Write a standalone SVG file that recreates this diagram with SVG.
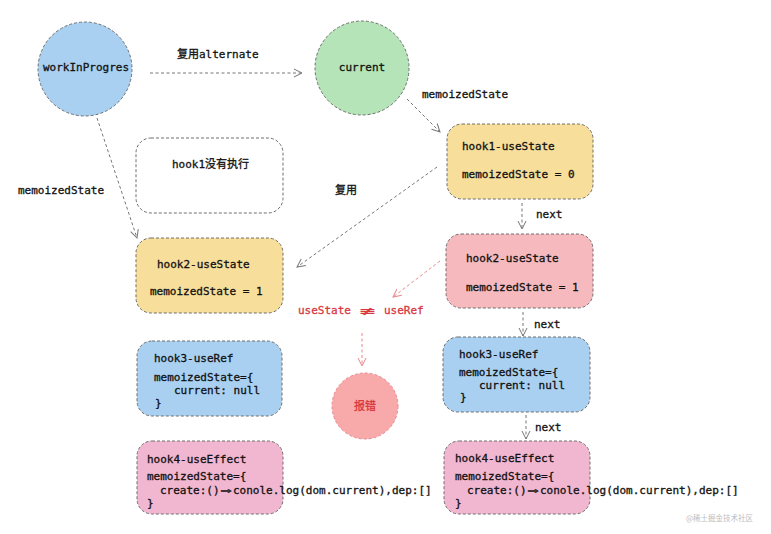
<svg xmlns="http://www.w3.org/2000/svg" width="771" height="534" viewBox="0 0 771 534">
<defs>
<style>
text{font-family:"DejaVu Sans Mono","Noto Sans CJK SC",monospace;font-size:11px;fill:#111;stroke:#111;stroke-width:0.3px}
.shape{stroke:#6f6f6f;stroke-width:1;stroke-dasharray:3 2}
.edge{fill:none;stroke:#777;stroke-width:1;stroke-dasharray:3 2.5}
.red{fill:none;stroke:#e8878d;stroke-width:1;stroke-dasharray:3 2.5}
text.rt{fill:#d9373e;stroke:#d9373e}
text.wm{font-family:"Noto Sans CJK SC",sans-serif;font-size:7.5px;fill:#bdbdbd;stroke:none}
</style>
<marker id="ah" viewBox="0 0 10 10" refX="9" refY="5" markerWidth="10" markerHeight="10" orient="auto" markerUnits="userSpaceOnUse">
<path d="M1,1 L9,5 L1,9" fill="none" stroke="#777" stroke-width="1"/>
</marker>
<marker id="ahr" viewBox="0 0 10 10" refX="9" refY="5" markerWidth="10" markerHeight="10" orient="auto" markerUnits="userSpaceOnUse">
<path d="M1,1 L9,5 L1,9" fill="none" stroke="#e8878d" stroke-width="1"/>
</marker>
</defs>
<rect width="771" height="534" fill="#fff"/>

<g id="connectors">
<path class="edge" d="M150,73 L302,73" marker-end="url(#ah)"/>
<path class="edge" d="M407,99 L440,132" marker-end="url(#ah)"/>
<path class="edge" d="M522,203 L522,229" marker-end="url(#ah)"/>
<path class="edge" d="M523,312 L523,336" marker-end="url(#ah)"/>
<path class="edge" d="M526,415 L526,439" marker-end="url(#ah)"/>
<path class="edge" d="M97,118 L137,238" marker-end="url(#ah)"/>
<path class="edge" d="M437,167 L297,267" marker-end="url(#ah)"/>
<path class="red" d="M440,261 L393,297" marker-end="url(#ahr)"/>
<path class="red" d="M362,333 L362,366" marker-end="url(#ahr)"/>
<text x="177" y="58">复用alternate</text>
<text x="422" y="98">memoizedState</text>
<text x="18" y="194">memoizedState</text>
<text x="335" y="194">复用</text>
<text x="536" y="218">next</text>
<text x="534" y="328">next</text>
<text x="535" y="431">next</text>
</g>

<g id="workInProgress">
<circle class="shape" cx="85" cy="69" r="47" fill="#a9d0f1"/>
<text x="86" y="71" text-anchor="middle">workInProgres</text>
</g>

<g id="current">
<circle class="shape" cx="362" cy="68" r="47" fill="#b4e4b8"/>
<text x="362" y="71" text-anchor="middle">current</text>
</g>

<g id="hook1-right">
<rect class="shape" x="447" y="124" width="146" height="75" rx="15" fill="#f7de9b"/>
<text x="462" y="150">hook1-useState</text>
<text x="462" y="178">memoizedState = 0</text>
</g>

<g id="hook1-missing">
<rect class="shape" x="136" y="138" width="147" height="75" rx="15" fill="none"/>
<text x="172" y="168">hook1没有执行</text>
</g>

<g id="hook2-left">
<rect class="shape" x="136" y="238" width="147" height="75" rx="15" fill="#f7de9b"/>
<text x="157" y="268">hook2-useState</text>
<text x="150" y="295">memoizedState = 1</text>
</g>

<g id="hook2-right">
<rect class="shape" x="446" y="234" width="147" height="74" rx="15" fill="#f6babe"/>
<text x="466" y="262">hook2-useState</text>
<text x="466" y="291">memoizedState = 1</text>
</g>

<g id="mismatch">
<text class="rt" x="298" y="314">useState</text>
<text class="rt" x="0" y="0" font-size="13" text-anchor="middle" transform="translate(367.5,314.5) scale(2.3,1)">≢</text>
<text class="rt" x="384" y="314">useRef</text>
</g>

<g id="error">
<circle cx="365" cy="406" r="33" fill="#f8aaaa" stroke="#e8878d" stroke-width="1" stroke-dasharray="3 2"/>
<text class="rt" x="365" y="410" text-anchor="middle">报错</text>
</g>

<g id="hook3-left">
<rect class="shape" x="137" y="341" width="145" height="75" rx="15" fill="#a9d0f1"/>
<text x="154" y="362">hook3-useRef</text>
<text x="154" y="381">memoizedState={</text>
<text x="174" y="394">current: null</text>
<text x="155" y="407">}</text>
</g>

<g id="hook3-right">
<rect class="shape" x="443" y="337" width="147" height="75" rx="15" fill="#a9d0f1"/>
<text x="459" y="358">hook3-useRef</text>
<text x="459" y="376">memoizedState={</text>
<text x="479" y="389">current: null</text>
<text x="460" y="401">}</text>
</g>

<g id="hook4-left">
<rect class="shape" x="137" y="441" width="146" height="73" rx="15" fill="#f2b7d0"/>
<text x="147" y="463">hook4-useEffect</text>
<text x="147" y="480">memoizedState={</text>
<text x="160" y="494">create:()</text>
<text x="0" y="0" text-anchor="middle" transform="translate(226.2,494) scale(1.7,1)">⇒</text>
<text x="233" y="494">conole.log(dom.current),dep:[]</text>
<text x="147" y="507">}</text>
</g>

<g id="hook4-right">
<rect class="shape" x="444" y="441" width="146" height="73" rx="15" fill="#f2b7d0"/>
<text x="455" y="462">hook4-useEffect</text>
<text x="455" y="480">memoizedState={</text>
<text x="467" y="494">create:()</text>
<text x="0" y="0" text-anchor="middle" transform="translate(533.2,494) scale(1.7,1)">⇒</text>
<text x="540" y="494">conole.log(dom.current),dep:[]</text>
<text x="455" y="507">}</text>
</g>

<text class="wm" x="686" y="521">@稀土掘金技术社区</text>
</svg>
